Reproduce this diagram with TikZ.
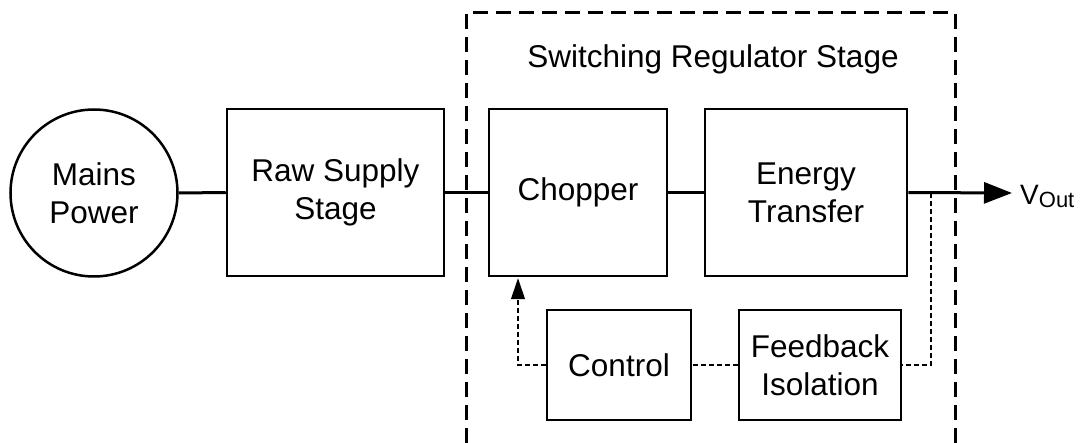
\documentclass[tikz,border=0pt]{standalone}
\usepackage{fontspec}
\setmainfont{Liberation Sans}
\usetikzlibrary{arrows.meta}

\tikzset{
  block/.style={draw, line width=2.5pt, rectangle, inner sep=0pt, align=center,
    font=\fontsize{31.5}{38}\selectfont},
  source/.style={draw, line width=2.5pt, circle, inner sep=0pt, minimum size=167pt,
    align=center, font=\fontsize{31.5}{38}\selectfont},
  wire/.style={line width=3pt},
  sense/.style={line width=1.1pt, dash pattern=on 5pt off 3pt},
  stageframe/.style={line width=3pt, dash pattern=on 15pt off 8pt},
}

\begin{document}
\begin{tikzpicture}[x=1pt, y=-1pt]
  \useasboundingbox (0,0) rectangle (1081,443);

  % dashed enclosure of the switching regulator, open at the bottom
  \draw[stageframe] (466,443) -- (466,13) -- (955,13) -- (955,443);
  \node[anchor=base, inner sep=0pt, font=\fontsize{31.5}{38}\selectfont]
    (title) at (713,68) {Switching Regulator Stage};

  % main power path
  \node[source] (mains) at (94,193) {Mains\\Power};
  \node[block, minimum width=217pt, minimum height=167pt] (raw) at (335.5,192.5) {Raw Supply\\Stage};
  \node[block, minimum width=178pt, minimum height=167pt] (chop) at (578,192.5) {Chopper};
  \node[block, minimum width=202pt, minimum height=167pt] (energy) at (806,192.5) {Energy\\Transfer};

  % feedback loop blocks
  \node[block, minimum width=144pt, minimum height=110pt] (control) at (619,365) {Control};
  \node[block, minimum width=162pt, minimum height=110pt] (feedback) at (820,365) {Feedback\\Isolation};

  % output terminal
  \coordinate (outtip) at (1012,193);
  \coordinate (tap) at (931,193);
  \node[anchor=base west, inner sep=0pt] (vout) at (1020,205)
    {\fontsize{28}{30}\selectfont V\raisebox{-3pt}{\fontsize{22}{24}\selectfont Out}};

  \draw[wire] (mains.east) -- (raw.west);
  \draw[wire] (raw.east) -- (chop.west);
  \draw[wire] (chop.east) -- (energy.west);
  \draw[wire, -{Triangle[length=28pt, width=21pt]}] (energy.east) -- (outtip);

  % sensing and control path
  \draw[sense] (tap) |- (feedback.east);
  \draw[sense] (feedback.west) -- (control.east);
  \draw[sense, -{Triangle[length=21pt, width=14pt]}]
    (control.west) -| ([xshift=-60pt, yshift=-1pt]chop.south);
\end{tikzpicture}
\end{document}
